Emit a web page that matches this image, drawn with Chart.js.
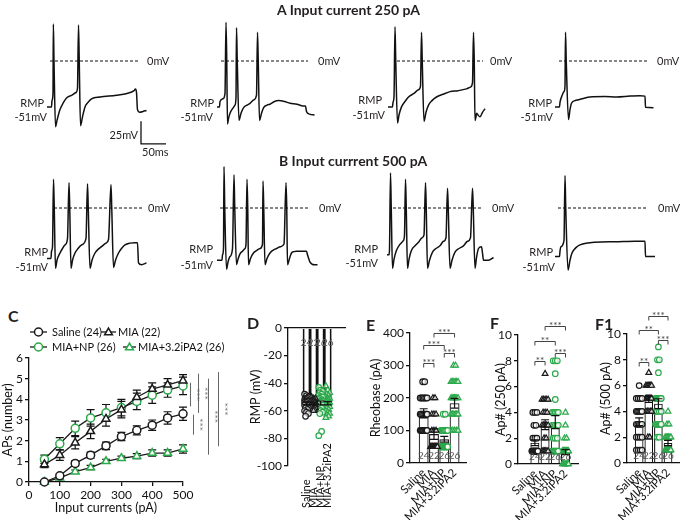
<!DOCTYPE html>
<html><head><meta charset="utf-8">
<script src="https://cdn.jsdelivr.net/npm/chart.js@4.4.1/dist/chart.umd.min.js"></script>
<style>
body{margin:0;background:#fff;width:685px;height:520px;position:relative;overflow:hidden;font-family:Lato,'Open Sans',sans-serif;color:#231f20}
canvas{position:absolute}
.t{position:absolute;white-space:nowrap;font-size:11px;line-height:14px}
.h{position:absolute;white-space:nowrap;font-weight:bold;font-size:14px;line-height:16px}
.p{position:absolute;white-space:nowrap;font-weight:bold;font-size:16px;line-height:18px}
</style></head><body>
<script>
// ---------------- DATA ----------------
const groups = ['Saline','MIA','MIA+NP','MIA+3.2iPA2'];
const groupN = [24,22,26,26];

// Panel C: APs vs input current
const currents = [50,100,150,200,250,300,350,400,450,500];
const apsSaline = [0,0.3,0.9,1.3,1.75,2.2,2.5,2.75,3.1,3.3];
const apsSalineErr = [0.05,0.1,0.12,0.15,0.18,0.2,0.22,0.25,0.3,0.32];
const apsMIA = [0.85,1.3,1.9,2.45,3.05,3.5,4.1,4.5,4.7,4.9];
const apsMIAErr = [0.15,0.25,0.3,0.35,0.35,0.4,0.35,0.3,0.3,0.3];
const apsNP = [1.1,1.85,2.6,3.1,3.35,3.6,3.9,4.2,4.45,4.65];
const apsNPErr = [0.2,0.3,0.35,0.4,0.4,0.4,0.4,0.4,0.35,0.42];
const apsIPA2 = [0,0.2,0.5,0.7,1.0,1.15,1.25,1.4,1.4,1.6];
const apsIPA2Err = [0.03,0.05,0.08,0.1,0.1,0.1,0.12,0.15,0.15,0.2];
const apsSig = [[4.8,3.66,'***'],[3.26,2.29,'***'],[5.24,3.34,'***'],[5.0,1.32,'***'],[5.32,1.73,'***']];

// Panel D: RMP (mV)
const rmpSaline = [-48,-49,-50,-51,-51,-52,-52,-53,-53,-53,-54,-54,-55,-55,-56,-56,-57,-58,-58,-59,-60,-61,-62,-64];
const rmpMIA = [-50,-51,-51,-52,-52,-53,-53,-54,-54,-54,-55,-55,-56,-56,-57,-57,-58,-58,-59,-59,-60,-60];
const rmpNP = [-43,-45,-46,-47,-48,-49,-50,-50,-51,-52,-52,-53,-53,-54,-54,-55,-56,-56,-57,-58,-59,-60,-61,-62,-75,-78];
const rmpIPA2 = [-42,-45,-47,-48,-49,-50,-51,-51,-52,-52,-53,-53,-54,-54,-55,-55,-56,-57,-58,-59,-60,-61,-62,-63,-64,-65];
const rmpMean = [-54.6,-55.0,-54.3,-54.5];
const rmpSem = [0.9,0.7,1.4,1.2];

// Panel E: Rheobase (pA)
const rheoSaline = [250,250,200,200,200,200,200,200,150,150,150,150,150,150,150,100,100,100,100,100,100,100,100,100];
const rheoMIA = [200,200,150,150,150,100,100,100,50,50,50,50,50,50,50,50,50,50,50,50,50,50];
const rheoNP = [150,150,100,100,100,100,100,100,100,50,50,50,50,50,50,50,50,50,50,50,50,50,50,50,50,50];
const rheoIPA2 = [300,300,250,250,250,250,250,250,200,200,200,200,200,200,200,150,150,150,150,150,150,100,100,100,100,100];
const rheoMean = [153,89,73,184];
const rheoSem = [14,16,9,15];
const rheoSig = [[0,1,308,'***'],[0,2,362,'***'],[1,3,400,'***'],[2,3,338,'***']];

// Panel F: AP# at 250 pA
const ap250Saline = [4,4,4,3,3,2,2,2,1,1,1,1,1,1,1,1,1,1,1,1,1,1,1,1];
const ap250MIA = [7,5,5,5,5,5,4,4,4,3,3,3,3,3,2,2,1,1,1,1,1,1];
const ap250NP = [8,8,8,7,5,4,4,4,4,4,3,3,3,3,3,2,2,2,1,1,1,1,1,1,1,1];
const ap250IPA2 = [4,3,2,2,1,1,1,1,1,1,1,1,1,1,1,1,1,1,0,0,0,0,0,0,0,0];
const ap250Mean = [1.65,3.05,3.25,0.92];
const ap250Sem = [0.22,0.38,0.5,0.2];
const ap250Sig = [[0,1,8.0,'**'],[0,2,9.5,'**'],[1,3,10.7,'***'],[2,3,8.6,'***']];

// Panel F1: AP# at 500 pA
const ap500Saline = [6,5,5,5,5,4,4,4,4,4,4,3,3,3,3,3,2,2,2,2,1,1,1,1];
const ap500MIA = [7,6,6,6,6,6,6,5,5,5,5,5,5,5,5,4,4,4,4,4,2,2];
const ap500NP = [9,8,8,7,5,5,5,5,5,5,5,5,5,4,4,4,4,3,3,3,3,3,3,3,2,2];
const ap500IPA2 = [4,3,3,2,2,2,2,2,2,1,1,1,1,1,1,1,1,1,1,1,1,1,1,1,1,1];
const ap500Mean = [3.2,4.95,4.6,1.55];
const ap500Sem = [0.3,0.25,0.38,0.2];
const ap500Sig = [[0,1,7.8,'**'],[0,2,10.3,'**'],[1,3,11.4,'***'],[2,3,9.5,'***']];

// Example traces [time ms, membrane potential mV]
const traceA1 = [[0,-51],[9,-51],[10,-44],[12,-36],[12.7,41],[14,0],[17,-73],[20,-66],[26,-54],[33,-46],[39,-41],[50,-38],[58,-35],[61,-30],[63,40],[64.5,0],[67,-72],[71,-62],[76,-51],[82,-46],[89,-42],[106,-40],[139,-38],[160,-36],[174,-33],[177,-31],[179,-35],[181,-54],[186,-57],[192,-56],[199,-55]];
const traceA2 = [[0,-51],[5,-51],[6,-45],[12,-42],[16,-36],[18,43],[19.5,0],[21,-70],[23,-64],[26,-58],[31,-53],[36,-49],[38,-40],[39,37],[40.5,0],[44,-66],[48,-58],[53,-52],[60,-49],[66,-47],[74,-43],[79,-38],[81,32],[82.5,0],[85,-66],[89,-58],[93,-52],[100,-49],[106,-48],[115,-45],[123,-44],[135,-45],[146,-47],[160,-48],[172,-50],[177,-50],[179,-56],[185,-59],[195,-60]];
const traceA3 = [[0,-51],[9,-51],[10,-46],[12,-40],[14,38],[15.5,0],[19,-69],[22,-60],[27,-51],[34,-45],[41,-40],[52,-36],[61,-32],[65,-28],[67,32],[68.5,0],[72,-67],[76,-57],[81,-49],[88,-44],[97,-40],[110,-37],[124,-34],[140,-33],[157,-31],[165,-29],[169,-24],[171,32],[172.5,0],[174,-66],[176,-62],[177,-58],[180,-60],[184,-62],[189,-57],[194,-53]];
const traceA4 = [[0,-51],[9,-51],[10,-46],[13,-40],[18,-34],[20,-28],[21,32],[22.5,0],[27,-65],[30,-54],[33,-47],[40,-44],[47,-43],[60,-41],[70,-40],[100,-39.5],[123,-40],[150,-39],[170,-38.5],[180,-39],[181,-51.5],[197,-52]];
const traceB1 = [[0,-56],[8,-56],[9,-48],[11,-43],[13,32],[14.5,0],[17,-67],[20,-58],[26,-50],[31,-45],[36,-41],[41,-34],[44,28],[45.5,0],[48,-67],[51,-58],[56,-50],[62,-45],[69,-41],[78,-34],[81,27],[82.5,0],[86,-67],[90,-58],[96,-50],[102,-46],[109,-43],[118,-39],[123,-35],[128,26],[129.5,0],[133,-66],[137,-58],[143,-50],[149,-45],[156,-41],[166,-39],[176,-38.5],[181,-38.5],[183,-61],[189,-63],[199,-61]];
const traceB2 = [[0,-58],[10,-58],[11,-52],[13,-45],[14,46],[15.5,0],[19,-68],[22,-60],[26,-54],[31,-45],[34,37],[35.5,0],[39,-63],[42,-57],[46,-51],[51,-48],[56,-45],[58,-40],[60,32],[61.5,0],[63,-63],[67,-56],[73,-50],[80,-47],[86,-45],[91,-40],[92,30],[93.5,0],[96,-63],[100,-56],[106,-50],[112,-47],[119,-45],[127,-43],[134,-40],[138,28],[139.5,0],[141,-63],[145,-56],[149,-50],[154,-48.5],[159,-48],[170,-48],[179,-48],[181,-52],[186,-60],[195,-63],[201,-63]];
const traceB3 = [[0,-52],[4,-52],[5,-46],[7,39],[8.5,0],[11,-67],[14,-57],[19,-47],[25,-41],[33,-36],[35,-30],[37,32],[38.5,0],[41,-67],[44,-57],[49,-47],[56,-42],[63,-38],[70,-33],[74,-30],[77,28],[78.5,0],[81,-67],[85,-58],[91,-49],[98,-45],[106,-42],[113,-37],[118,-33],[121,22],[122.5,0],[126,-67],[130,-58],[136,-49],[144,-45],[153,-42],[161,-37],[167,-33],[171,22],[172.5,0],[176,-67],[179,-55],[183,-45],[189,-43],[191,-50],[193,-58],[203,-58],[213,-55]];
const traceB4 = [[0,-54],[9,-54],[10,-48],[12,-43],[18,-36],[20,36],[21.5,0],[26,-69],[30,-58],[34,-50],[42,-44],[50,-41],[80,-38],[120,-37.5],[160,-37],[180,-37],[181,-54],[200,-54]];
// 0 mV reference line extent (ms) for each trace
const zeroA = [[6,182],[8,182],[18,190],[8,186]];
const zeroB = [[14,192],[6,182],[12,190],[6,186]];
const scaleBar = {t:188, v:-92, ms:50, mv:25};

// ---------------- RENDER ----------------
const BLACK = '#1a1a1a', GREEN = '#2aa84a', GREY = '#555';
Chart.defaults.font.family = "Lato, 'Open Sans', sans-serif";
Chart.defaults.color = '#111';
Chart.defaults.animation = false;

function addText(txt, x, y, cls, align, extra) {
  const d = document.createElement('div');
  d.className = cls; d.textContent = txt;
  const lh = cls === 'h' ? 16 : cls === 'p' ? 18 : 14;
  d.style.top = (y - lh / 2) + 'px';
  if (align === 'right') d.style.right = (685 - x) + 'px'; else d.style.left = x + 'px';
  if (extra) Object.assign(d.style, extra);
  document.body.appendChild(d);
}
function addCanvas(id, left, top, w, h) {
  const c = document.createElement('canvas');
  c.id = id; c.width = w; c.height = h;
  c.style.left = left + 'px'; c.style.top = top + 'px'; c.style.width = w + 'px'; c.style.height = h + 'px';
  document.body.appendChild(c);
  return c;
}

const extras = {};
function triPath(ctx, x, y, r) {
  let rad = 0; ctx.beginPath();
  ctx.moveTo(x + Math.sin(rad) * r, y - Math.cos(rad) * r);
  rad += 2 * Math.PI / 3; ctx.lineTo(x + Math.sin(rad) * r, y - Math.cos(rad) * r);
  rad += 2 * Math.PI / 3; ctx.lineTo(x + Math.sin(rad) * r, y - Math.cos(rad) * r);
  ctx.closePath();
}
function drawErr(chart, o) {
  const ctx = chart.ctx, xs = chart.scales.x, ys = chart.scales.y;
  ctx.save(); ctx.strokeStyle = '#111'; ctx.lineWidth = 1.2;
  o.err.forEach(e => {
    e.x.forEach((xv, i) => {
      const x = xs.getPixelForValue(xv);
      const y1 = ys.getPixelForValue(e.m[i] - e.s[i]), y2 = ys.getPixelForValue(e.m[i] + e.s[i]);
      ctx.beginPath();
      ctx.moveTo(x, y1); ctx.lineTo(x, y2);
      ctx.moveTo(x - e.cap, y1); ctx.lineTo(x + e.cap, y1);
      ctx.moveTo(x - e.cap, y2); ctx.lineTo(x + e.cap, y2);
      ctx.stroke();
    });
  });
  ctx.restore();
}
const annot = {
  id: 'annot',
  beforeDatasetsDraw(chart) { const o = extras[chart.canvas.id]; if (o && o.err && o.errBehind) drawErr(chart, o); },
  afterDatasetsDraw(chart) {
    const o = extras[chart.canvas.id]; if (!o) return;
    const ctx = chart.ctx, xs = chart.scales.x, ys = chart.scales.y, ca = chart.chartArea;
    if (o.err && !o.errBehind) drawErr(chart, o);
    ctx.save();
    if (o.nLabels) {
      ctx.fillStyle = GREY; ctx.font = "10px Lato"; ctx.textAlign = 'center'; ctx.textBaseline = 'middle';
      groupN.forEach((n, i) => {
        const y = o.nLabels === 'bottom' ? ca.bottom - 7 : ca.top + 15;
        ctx.fillText(String(n), xs.getPixelForValue(i), y);
      });
    }
    if (o.brackets) {
      ctx.strokeStyle = '#444'; ctx.fillStyle = '#444'; ctx.lineWidth = 1;
      ctx.font = "10px Lato"; ctx.textAlign = 'center'; ctx.textBaseline = 'alphabetic';
      o.brackets.forEach(([a, b, v, lab]) => {
        const x1 = xs.getPixelForValue(a), x2 = xs.getPixelForValue(b), y = Math.round(ys.getPixelForValue(v)) + 0.5;
        ctx.beginPath(); ctx.moveTo(x1, y + 4); ctx.lineTo(x1, y); ctx.lineTo(x2, y); ctx.lineTo(x2, y + 4); ctx.stroke();
        ctx.fillText(lab, (x1 + x2) / 2, y + 2);
      });
    }
    if (o.vbrackets) {
      ctx.strokeStyle = '#666'; ctx.fillStyle = '#666'; ctx.lineWidth = 1;
      ctx.font = "10px Lato"; ctx.textAlign = 'center'; ctx.textBaseline = 'middle';
      o.vbrackets.forEach(([top, bot, lab], i) => {
        const x = Math.round(ca.right + o.vbx[i]) + 0.5;
        const y1 = ys.getPixelForValue(top), y2 = ys.getPixelForValue(bot);
        ctx.beginPath(); ctx.moveTo(x, y1); ctx.lineTo(x, y2); ctx.stroke();
        ctx.save(); ctx.translate(x + 6, (y1 + y2) / 2); ctx.rotate(Math.PI / 2); ctx.fillText(lab, 0, 0); ctx.restore();
      });
    }
    if (o.legend) {
      ctx.font = "11px Lato"; ctx.textBaseline = 'middle'; ctx.textAlign = 'left';
      o.legend.forEach(it => {
        ctx.strokeStyle = BLACK; ctx.lineWidth = 1.3;
        ctx.beginPath(); ctx.moveTo(it.x0, it.y); ctx.lineTo(it.x1, it.y); ctx.stroke();
        const cx = (it.x0 + it.x1) / 2;
        ctx.fillStyle = '#fff'; ctx.strokeStyle = it.color; ctx.lineWidth = 1.5;
        if (it.tri) triPath(ctx, cx, it.y + 0.5, 4.5); else { ctx.beginPath(); ctx.arc(cx, it.y, 4, 0, 2 * Math.PI); }
        ctx.fill(); ctx.stroke();
        ctx.fillStyle = '#111'; ctx.fillText(it.text, it.tx, it.y);
      });
    }
    if (o.vLabels) {
      ctx.fillStyle = '#111'; ctx.font = "11px Lato"; ctx.textAlign = 'left'; ctx.textBaseline = 'middle';
      groups.forEach((g, i) => {
        ctx.save(); ctx.translate(xs.getPixelForValue(i), o.vLabels); ctx.rotate(-Math.PI / 2); ctx.fillText(g, 0, 0); ctx.restore();
      });
    }
    ctx.restore();
  }
};
Chart.register(annot);

// ---- traces ----
function traceChart(id, left, top, pts, zero, bar) {
  const c = addCanvas(id, left, top, 140, 160);
  const ds = [
    {data: pts.map(p => ({x: p[0], y: p[1]})), showLine: true, borderColor: '#111', borderWidth: 1.5, pointRadius: 0, cubicInterpolationMode: 'monotone', fill: false},
    {data: [{x: zero[0], y: 0}, {x: zero[1], y: 0}], showLine: true, borderColor: '#111', borderWidth: 1.1, borderDash: [3, 2], pointRadius: 0}
  ];
  if (bar) ds.push({data: [{x: bar.t, y: bar.v + bar.mv}, {x: bar.t, y: bar.v}, {x: bar.t + bar.ms, y: bar.v}], showLine: true, borderColor: '#111', borderWidth: 1.3, pointRadius: 0});
  new Chart(c, {type: 'scatter', data: {datasets: ds}, options: {
    responsive: false, devicePixelRatio: 1, animation: false, events: [],
    layout: {padding: 0}, plugins: {legend: {display: false}, tooltip: {enabled: false}},
    scales: {x: {type: 'linear', display: false, min: -20, max: 260}, y: {display: false, min: -110, max: 67.8}}
  }});
}
const traceLeftsA = [37, 207, 378, 545], traceLeftsB = [37, 207, 377, 545];
[traceA1, traceA2, traceA3, traceA4].forEach((tr, i) => traceChart('tA' + i, traceLeftsA[i], 0, tr, zeroA[i], i === 0 ? scaleBar : null));
[traceB1, traceB2, traceB3, traceB4].forEach((tr, i) => traceChart('tB' + i, traceLeftsB[i], 147, tr, zeroB[i], null));

// trace labels
addText('A Input current 250 pA', 277, 10, 'h');
addText('B Input currrent 500 pA', 279, 161, 'h');
const zeroLblA = [[147,61],[318,61],[490,61],[657,61]], zeroLblB = [[148,208],[319,208],[492,208],[658,208]];
const rmpLblA = [[44,103,47,117],[214,103,213,117],[382,100,385,115],[552,103,553,117]];
const rmpLblB = [[48,252,48,267],[213,249,213,265],[378,249,378,263],[553,252,555,267]];
zeroLblA.concat(zeroLblB).forEach(([x, y]) => addText('0mV', x, y, 't'));
rmpLblA.concat(rmpLblB).forEach(([x1, y1, x2, y2]) => { addText('RMP', x1, y1, 't', 'right'); addText('-51mV', x2, y2, 't', 'right'); });
addText('25mV', 138, 135, 't', 'right');
addText('50ms', 142, 152, 't');

// panel letters
addText('C', 8, 316, 'p'); addText('D', 247, 323, 'p'); addText('E', 366, 325, 'p'); addText('F', 490, 323, 'p'); addText('F1', 595, 324, 'p');

// common axis helpers
const axisFont = {size: 12};
function yAxis(min, max, step, title, width, tpad) {
  return {type: 'linear', min, max, ticks: {stepSize: step, font: axisFont, color: '#111', padding: 2},
    grid: {display: true, drawOnChartArea: false, drawTicks: true, tickLength: 4, color: '#111', lineWidth: 1.3},
    border: {color: '#111', width: 1.3},
    title: {display: true, text: title, font: {size: 12.5}, color: '#111', padding: {top: tpad, bottom: 0}},
    afterFit: s => { s.width = width; }};
}
function xGroupAxis(min, max, height) {
  return {type: 'linear', min, max,
    afterBuildTicks: s => { s.ticks = groups.map((g, i) => ({value: i})); },
    ticks: {callback: v => groups[v], minRotation: 45, maxRotation: 45, autoSkip: false, font: {size: 11.5}, color: '#111', padding: 3},
    grid: {display: false, drawTicks: false}, border: {color: '#111', width: 1.3},
    afterFit: s => { s.height = height; }};
}
function swarm(values, gi, half) {
  const counts = {}; values.forEach(v => counts[v] = (counts[v] || 0) + 1);
  const seen = {};
  return values.map(v => {
    const k = counts[v]; seen[v] = seen[v] === undefined ? 0 : seen[v] + 1;
    const step = k > 1 ? Math.min(0.2, 2 * half / (k - 1)) : 0;
    return {x: gi + (seen[v] - (k - 1) / 2) * step, y: v};
  });
}
function jitter(values, gi) {
  const pat = [-0.27, 0, 0.27, -0.13, 0.13];
  return values.slice().sort((a, b) => b - a).map((v, i) => ({x: gi + pat[i % 5], y: v}));
}
const pStyles = [
  {pointStyle: 'circle', pointBorderColor: BLACK},
  {pointStyle: 'triangle', pointBorderColor: BLACK},
  {pointStyle: 'circle', pointBorderColor: GREEN},
  {pointStyle: 'triangle', pointBorderColor: GREEN}
];

// ---- Panel C ----
(function () {
  const c = addCanvas('cC', 0, 318, 232, 202);
  const series = [[apsSaline, apsSalineErr], [apsMIA, apsMIAErr], [apsNP, apsNPErr], [apsIPA2, apsIPA2Err]];
  extras.cC = {
    errBehind: true,
    err: series.map(([m, s]) => ({x: currents, m, s, cap: 4})),
    vbrackets: apsSig, vbx: [7, 10, 15, 25, 35],
    legend: [
      {x0: 30, x1: 47, y: 14, tx: 52, color: BLACK, tri: false, text: groups[0] + ' (' + groupN[0] + ')'},
      {x0: 101, x1: 116, y: 14, tx: 118, color: BLACK, tri: true, text: groups[1] + ' (' + groupN[1] + ')'},
      {x0: 30, x1: 47, y: 29, tx: 52, color: GREEN, tri: false, text: groups[2] + ' (' + groupN[2] + ')'},
      {x0: 123, x1: 136, y: 29, tx: 138, color: GREEN, tri: true, text: groups[3] + ' (' + groupN[3] + ')'}
    ]
  };
  new Chart(c, {type: 'scatter', data: {datasets: series.map(([m], i) => Object.assign({
    label: groups[i], data: currents.map((x, j) => ({x, y: m[j]})), showLine: true, borderColor: BLACK, borderWidth: 1.3,
    pointRadius: pStyles[i].pointStyle === 'triangle' ? 4.5 : 4, pointBackgroundColor: '#fff', pointBorderWidth: 1.5, clip: false
  }, pStyles[i]))}, options: {
    responsive: false, devicePixelRatio: 1, animation: false, events: [],
    layout: {padding: {top: 40, right: 49, left: 0, bottom: 0}},
    plugins: {legend: {display: false}, tooltip: {enabled: false}},
    scales: {
      x: {type: 'linear', min: 0, max: 500, ticks: {stepSize: 100, font: axisFont, color: '#111', padding: 2},
        grid: {display: true, drawOnChartArea: false, drawTicks: true, tickLength: 4, color: '#111', lineWidth: 1.3},
        border: {color: '#111', width: 1.3},
        title: {display: true, text: 'Input currents (pA)', font: {size: 12.5}, color: '#111', padding: {top: 0, bottom: 5}},
        afterFit: s => { s.height = 38; }},
      y: yAxis(0, 6, 1, 'APs (number)', 29, 0)
    }
  }});
})();

// ---- bar panels ----
function barPanel(id, left, w, pad, yCfg, xCfg, means, sems, sets, bracketList, barPct, nPos, isD) {
  const c = addCanvas(id, left, 300, w, 220);
  extras[id] = {err: [{x: [0, 1, 2, 3], m: means, s: sems, cap: 4}], brackets: bracketList, nLabels: nPos, vLabels: isD ? 208 : null};
  const datasets = [{type: 'bar', data: means.map((m, i) => ({x: i, y: m})), backgroundColor: 'rgba(255,255,255,0)', borderColor: '#111', borderWidth: 1.1,
    barPercentage: barPct, categoryPercentage: 1, order: 2}];
  sets.forEach((pts, i) => datasets.push(Object.assign({type: 'scatter', data: pts, pointRadius: pStyles[i].pointStyle === 'triangle' ? 3.3 : 2.8,
    pointBackgroundColor: 'rgba(255,255,255,0.7)', pointBorderWidth: 1.2, clip: false, order: 1}, pStyles[i])));
  new Chart(c, {type: 'bar', data: {datasets}, options: {
    responsive: false, devicePixelRatio: 1, animation: false, events: [],
    layout: {padding: pad}, plugins: {legend: {display: false}, tooltip: {enabled: false}},
    scales: {x: xCfg, y: yCfg}
  }});
}
// D
barPanel('cD', 245, 108, {top: 28, right: 8, left: 0, bottom: 54},
  yAxis(-100, 0, 20, 'RMP (mV)', 43, 3),
  {type: 'linear', position: 'top', min: -0.6, max: 3.42, ticks: {display: false}, grid: {display: false, drawTicks: false},
    border: {color: '#111', width: 1.3}, afterFit: s => { s.height = 0; }},
  rmpMean, rmpSem, [jitter(rmpSaline, 0), jitter(rmpMIA, 1), jitter(rmpNP, 2), jitter(rmpIPA2, 3)], null, 1, 'top', true);
// E
barPanel('cE', 362, 110, {top: 33, right: 4, left: 0, bottom: 0},
  yAxis(0, 400, 100, 'Rheobase (pA)', 48, 6), xGroupAxis(-0.64, 3.5, 57),
  rheoMean, rheoSem, [swarm(rheoSaline, 0, 0.34), swarm(rheoMIA, 1, 0.34), swarm(rheoNP, 2, 0.34), swarm(rheoIPA2, 3, 0.34)], rheoSig, 0.96, 'bottom', false);
// F
barPanel('cF', 488, 96, {top: 35, right: 2, left: 0, bottom: 0},
  yAxis(0, 10, 2, 'Ap# (250 pA)', 30, 5), xGroupAxis(-0.91, 3.56, 56),
  ap250Mean, ap250Sem, [swarm(ap250Saline, 0, 0.3), swarm(ap250MIA, 1, 0.3), swarm(ap250NP, 2, 0.3), swarm(ap250IPA2, 3, 0.3)], ap250Sig, 0.88, 'bottom', false);
// F1
barPanel('cF1', 593, 92, {top: 34, right: 1, left: 0, bottom: 0},
  yAxis(0, 10, 2, 'Ap# (500 pA)', 34, 5), xGroupAxis(-0.58, 3.54, 57),
  ap500Mean, ap500Sem, [swarm(ap500Saline, 0, 0.3), swarm(ap500MIA, 1, 0.3), swarm(ap500NP, 2, 0.3), swarm(ap500IPA2, 3, 0.3)], ap500Sig, 0.9, 'bottom', false);
</script>
</body></html>
